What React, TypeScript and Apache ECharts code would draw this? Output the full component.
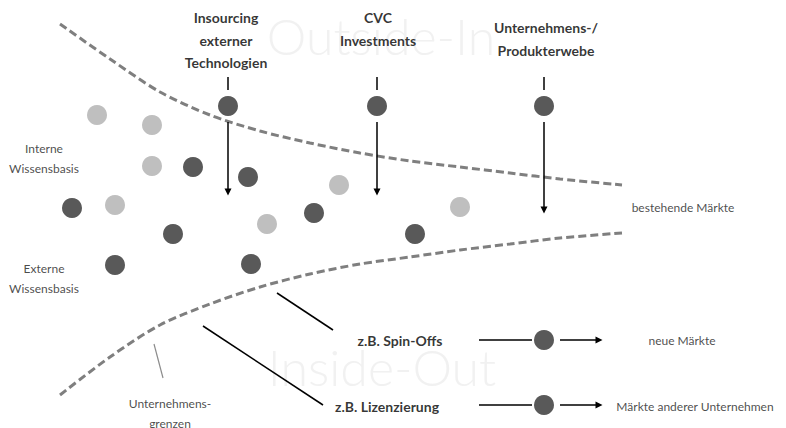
import React, { useEffect, useRef } from "react";
import * as echarts from "echarts";

const W = 786;
const H = 428;

// Light (internal) knowledge dots
const lightDots: number[][] = [
  [97, 115], [152, 125], [152, 166], [115, 205], [267, 224], [339, 185], [460, 207],
];
// Dark (external) knowledge dots
const darkDots: number[][] = [
  [228, 106], [377, 106], [544, 106],
  [193, 167], [248, 177], [72, 208], [173, 234], [314, 213], [415, 234],
  [115, 265], [251, 264],
  [544, 340], [544, 405],
];
// Company boundary (dashed curves)
const upperBoundary: number[][] = [
  [60, 24], [110, 59], [160, 92], [210, 115], [260, 131], [310, 143], [360, 153],
  [410, 161], [460, 167], [510, 173], [560, 179], [622, 185],
];
const lowerBoundary: number[][] = [
  [60, 395], [110, 357], [160, 325], [210, 304], [260, 287], [310, 274], [360, 264],
  [410, 257], [460, 250], [510, 244], [560, 238], [622, 233],
];
// Arrows (start -> end)
const arrowLines: number[][][] = [
  [[228, 122], [228, 192]],
  [[377, 122], [377, 192]],
  [[544, 122], [544, 210]],
  [[560, 340], [599, 340]],
  [[560, 405], [599, 405]],
];
// Plain black connector lines
const plainLines: number[][][] = [
  [[228, 77], [228, 90]],
  [[377, 77], [377, 90]],
  [[544, 77], [544, 90]],
  [[277, 293], [333, 330]],
  [[203, 326], [323, 405]],
  [[479, 340], [532, 340]],
  [[479, 405], [532, 405]],
];
// Grey pointer line to "Unternehmensgrenzen"
const greyLines: number[][][] = [[[154, 344], [163, 378]]];

// Text labels
const watermarkLabels = [
  { name: "Outside-In", value: [381, 36] },
  { name: "Inside-Out", value: [382, 367] },
];
const boldLabels = [
  { name: "Insourcing\nexterner\nTechnologien", value: [226, 40] },
  { name: "CVC\nInvestments", value: [378, 29] },
  { name: "Unternehmens-/\nProdukterwebe", value: [546, 39] },
  { name: "z.B. Spin-Offs", value: [400, 340] },
  { name: "z.B. Lizenzierung", value: [387, 406] },
];
const plainLabels = [
  { name: "Interne\nWissensbasis", value: [44, 158] },
  { name: "Externe\nWissensbasis", value: [44, 278] },
  { name: "bestehende Märkte", value: [683, 207] },
  { name: "neue Märkte", value: [682, 340] },
  { name: "Märkte anderer Unternehmen", value: [695, 406] },
  { name: "Unternehmens-\ngrenzen", value: [170, 413] },
];

const FONT = "Lato, 'Open Sans', sans-serif";

function textSeries(data: any[], label: any, z: number) {
  return {
    type: "scatter",
    data,
    symbolSize: 1,
    itemStyle: { color: "rgba(0,0,0,0)" },
    silent: true,
    z,
    label: {
      show: true,
      position: "inside",
      formatter: "{b}",
      align: "center",
      verticalAlign: "middle",
      fontFamily: FONT,
      ...label,
    },
  };
}

export default function App() {
  const ref = useRef<HTMLDivElement>(null);
  useEffect(() => {
    document.body.style.margin = "0";
    if (!ref.current) return;
    const chart = echarts.init(ref.current, undefined, { renderer: "svg" });
    const dashed = { color: "#7f7f7f", width: 3, type: [8, 4] };
    chart.setOption({
      animation: false,
      backgroundColor: "#ffffff",
      grid: { left: 0, right: 0, top: 0, bottom: 0 },
      xAxis: { type: "value", min: 0, max: W, show: false },
      yAxis: { type: "value", min: 0, max: H, inverse: true, show: false },
      series: [
        textSeries(watermarkLabels, { fontSize: 50, fontWeight: 300, color: "#eeeeee" }, 0),
        {
          type: "line",
          data: upperBoundary,
          smooth: 0.3,
          symbol: "none",
          silent: true,
          z: 1,
          lineStyle: dashed,
        },
        {
          type: "line",
          data: lowerBoundary,
          smooth: 0.3,
          symbol: "none",
          silent: true,
          z: 1,
          lineStyle: dashed,
        },
        {
          type: "lines",
          coordinateSystem: "cartesian2d",
          data: plainLines.map((c) => ({ coords: c })),
          symbol: "none",
          silent: true,
          z: 2,
          lineStyle: { color: "#000000", width: 1.5, opacity: 1 },
        },
        {
          type: "lines",
          coordinateSystem: "cartesian2d",
          data: greyLines.map((c) => ({ coords: c })),
          symbol: "none",
          silent: true,
          z: 2,
          lineStyle: { color: "#8c8c8c", width: 1.2, opacity: 1 },
        },
        {
          type: "lines",
          coordinateSystem: "cartesian2d",
          data: arrowLines.map((c) => ({ coords: c })),
          symbol: ["none", "triangle"],
          symbolSize: 7,
          silent: true,
          z: 2,
          itemStyle: { color: "#000000" },
          lineStyle: { color: "#000000", width: 1.5, opacity: 1 },
        },
        {
          type: "scatter",
          data: lightDots,
          symbolSize: 20,
          silent: true,
          z: 3,
          itemStyle: { color: "#bfbfbf", opacity: 1 },
        },
        {
          type: "scatter",
          data: darkDots,
          symbolSize: 20,
          silent: true,
          z: 3,
          itemStyle: { color: "#595959", opacity: 1 },
        },
        textSeries(boldLabels, { fontSize: 14, fontWeight: "bold", color: "#000000", lineHeight: 22.5 }, 4),
        textSeries(plainLabels, { fontSize: 12, color: "#1a1a1a", lineHeight: 20 }, 4),
      ],
    });
    return () => chart.dispose();
  }, []);
  return <div ref={ref} style={{ width: W, height: H }} />;
}
